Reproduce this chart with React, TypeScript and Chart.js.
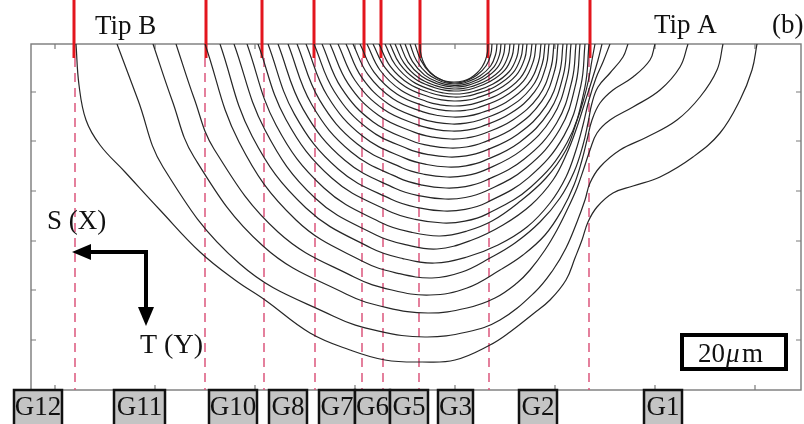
import { useEffect, useRef } from 'react';
import { Chart, registerables } from 'chart.js';

Chart.register(...registerables);

const SERIF = "'Liberation Serif', 'Times New Roman', serif";

// axis ticks (data units = image pixels)
const X_TICKS = [55, 155, 255, 355, 455, 555, 655, 755];
const Y_TICKS = [92, 141, 191, 241, 290, 340];

// grain boundaries
const GB_SOLID_X = [74, 206, 262, 314, 364, 381, 420, 488, 590];
const GB_DASH_X = [75, 205, 264, 315, 362, 383, 419, 489, 589];

// grain labels
const GRAIN_LABELS = ['G12', 'G11', 'G10', 'G8', 'G7', 'G6', 'G5', 'G3', 'G2', 'G1'];
const GRAIN_LEFT = [14, 114, 209, 269, 319, 355, 390, 438, 519, 644];
const GRAIN_RIGHT = [62, 165, 257, 307, 355, 390, 428, 473, 557, 682];

// crack fronts, outermost first: [x, y] points from left tip to right tip
const OUTER_FRONTS: number[][][] = [
  [[76, 44], [79, 85], [86, 120], [100, 145], [125, 172], [160, 210], [200, 252], [235, 280], [265, 300], [310, 333], [350, 350], [385, 360], [422, 362], [455, 360], [490, 345], [510, 332], [533, 314], [550, 300], [566, 280], [575, 258], [582, 240], [588, 222], [597, 207], [613, 193], [633, 186], [660, 177], [693, 157], [720, 133], [740, 100], [752, 70], [757, 44]],
  [[117, 44], [138, 100], [163, 167], [240, 264], [333, 316], [378.8, 331.1], [425, 337], [467, 332], [500, 320], [535, 292], [553, 270], [566, 248], [577, 222], [585, 200], [590, 183], [600, 167], [620, 150], [647, 137], [677, 120], [700, 97], [717, 70], [723, 44]],
  [[153, 44], [172, 100], [194, 157], [263, 246], [346, 294], [386.8, 307.6], [428, 313], [467, 308], [495, 298], [517, 283], [530, 270], [545, 250], [557, 230], [568, 208], [577, 188], [584, 168], [590, 150], [597, 133], [610, 120], [633, 107], [660, 90], [680, 67], [688, 44]],
  [[176, 44], [194, 98], [214, 149], [278, 232], [354, 277], [391.9, 290], [430, 295], [467, 288], [500, 270], [523, 255], [545, 235], [562, 210], [574, 185], [582, 160], [587, 140], [592, 120], [600, 103], [613, 90], [633, 77], [650, 60], [655, 44]],
  [[205, 44], [239, 142], [296, 220], [364, 262], [398, 273.3], [432, 278], [462, 272], [490, 258], [515, 243], [540, 222], [560, 198], [574, 172], [583, 145], [588, 123], [592, 103], [598, 87], [610, 73], [623, 57], [628, 44]],
  [[220, 44], [252, 136], [306, 208], [371, 248], [402.8, 258.6], [435, 263], [467, 257], [498, 245], [527, 227], [550, 203], [566, 177], [576, 150], [583, 125], [589, 100], [596, 78], [603, 62], [610, 44]],
  [[234, 44], [265, 130], [315, 198], [376, 235], [406.6, 244.9], [437, 249], [472, 240], [503, 225], [531, 205], [553, 180], [567, 153], [577, 127], [585, 102], [592, 80], [598, 60], [602, 44]],
  [[247, 44], [276, 125], [324, 188], [382, 223], [411, 232.2], [440, 236], [467, 231], [492, 221], [518, 203], [546, 178], [566, 150], [576.5, 122], [583.5, 100], [588.5, 80], [592, 60], [595, 44]],
];

const INNER_FRONTS: number[][][] = [
  [[258, 44], [285.8, 119.2], [332, 178.3], [387.5, 210.5], [415.3, 219.4], [443, 223], [464.9, 221.2], [486.8, 214.1], [530.6, 187.2], [567.1, 142.5], [584.6, 88.8], [589, 44]],
  [[268, 44], [294.4, 114.1], [338.4, 169.3], [391.2, 199.3], [417.6, 207.7], [444, 211], [465.2, 209.3], [486.3, 202.7], [528.6, 177.6], [563.9, 135.9], [580.8, 85.8], [585, 44]],
  [[278, 44], [303.1, 109.1], [344.8, 160.3], [394.9, 188.2], [420, 195.9], [445, 199], [465.3, 197.5], [485.5, 191.3], [526, 168], [559.8, 129.3], [576, 82.8], [580, 44]],
  [[288, 44], [311.7, 104.5], [351.2, 152], [398.6, 177.9], [422.3, 185.1], [446, 188], [465.5, 186.6], [485, 180.8], [524, 159.2], [556.5, 123.2], [572.1, 80], [576, 44]],
  [[297, 44], [319.5, 99.9], [357, 143.8], [402, 167.7], [424.5, 174.3], [447, 177], [465.6, 175.7], [484.2, 170.4], [521.4, 150.4], [552.4, 117.2], [567.3, 77.3], [571, 44]],
  [[306, 44], [327.3, 95.7], [362.8, 136.3], [405.4, 158.4], [426.7, 164.5], [448, 167], [465.9, 165.8], [483.7, 160.9], [519.4, 142.4], [549.2, 111.7], [563.4, 74.8], [567, 44]],
  [[314, 44], [334.3, 91.5], [368, 128.8], [408.5, 149.1], [428.8, 154.7], [449, 157], [466.1, 155.9], [483.2, 151.4], [517.4, 134.4], [545.9, 106.2], [559.6, 72.3], [563, 44]],
  [[322, 44], [341.2, 87.7], [373.2, 122], [411.6, 140.7], [430.8, 145.9], [450, 148], [466.2, 147], [482.4, 142.8], [514.8, 127.2], [541.8, 101.2], [554.8, 70], [558, 44]],
  [[330, 44], [348.2, 83.9], [378.4, 115.3], [414.7, 132.4], [432.9, 137.1], [451, 139], [466.5, 138], [481.9, 134.3], [512.8, 120], [538.6, 96.3], [550.9, 67.8], [554, 44]],
  [[338, 44], [355.1, 80.5], [383.6, 109.3], [417.8, 124.9], [434.9, 129.3], [452, 131], [466.6, 130.1], [481.1, 126.7], [510.2, 113.6], [534.5, 91.9], [546.1, 65.8], [549, 44]],
  [[346, 44], [361.9, 77.6], [388.4, 104], [420.2, 118.4], [436.1, 122.4], [452, 124], [466, 123.2], [479.9, 120], [507.8, 108], [531.1, 88], [542.2, 64], [545, 44]],
  [[353, 44], [368, 74.7], [393, 98.8], [423, 111.9], [438, 115.5], [453, 117], [466.2, 116.3], [479.4, 113.4], [505.8, 102.4], [527.8, 84.2], [538.4, 62.3], [541, 44]],
  [[360, 44], [374, 72.1], [397.2, 94.3], [425.1, 106.3], [439, 109.7], [453, 111], [465.5, 110.3], [477.9, 107.7], [502.8, 97.6], [523.6, 80.9], [533.5, 60.8], [536, 44]],
  [[367, 44], [379.9, 70], [401.4, 90.5], [427.2, 101.7], [440.1, 104.8], [453, 106], [464.9, 105.4], [476.7, 102.9], [500.4, 93.6], [520.2, 78.1], [529.6, 59.5], [532, 44]],
  [[373, 44], [385.2, 67.9], [405.4, 86.8], [429.7, 97], [441.9, 99.9], [454, 101], [465, 100.4], [475.9, 98.2], [497.8, 89.6], [516.1, 75.4], [524.8, 58.3], [527, 44]],
  [[379, 44], [390.3, 66.3], [409, 83.8], [431.5, 93.3], [442.8, 95.9], [454, 97], [464.4, 96.5], [474.7, 94.4], [495.4, 86.4], [512.7, 73.2], [520.9, 57.3], [523, 44]],
  [[385, 44], [395.4, 65], [412.6, 81.5], [433.3, 90.5], [443.7, 93], [454, 94], [463.8, 93.5], [473.5, 91.5], [493, 84], [509.3, 71.5], [517, 56.5], [519, 44]],
  [[390, 44], [399.6, 63.7], [415.6, 79.3], [434.8, 87.7], [444.4, 90.1], [454, 91], [463, 90.5], [472, 88.7], [490, 81.6], [505, 69.9], [512.2, 55.8], [514, 44]],
  [[395, 44], [403.9, 62.9], [418.6, 77.8], [436.3, 85.9], [445.2, 88.1], [454, 89], [462.4, 88.6], [470.8, 86.8], [487.6, 80], [501.6, 68.8], [508.3, 55.3], [510, 44]],
  [[400, 44], [408.1, 62.1], [421.6, 76.3], [437.8, 84], [445.9, 86.1], [454, 87], [461.7, 86.6], [469.3, 84.9], [484.6, 78.4], [497.4, 67.7], [503.5, 54.8], [505, 44]],
  [[405, 44], [412.4, 61.4], [424.6, 75.1], [439.3, 82.6], [446.7, 84.7], [454, 85.5], [461.1, 85.1], [468.1, 83.4], [482.2, 77.2], [494, 66.8], [499.6, 54.4], [501, 44]],
  [[410, 44], [416.6, 60.8], [427.6, 74], [440.8, 81.2], [447.4, 83.2], [454, 84], [460.5, 83.6], [466.9, 82], [479.8, 76], [490.6, 66], [495.7, 54], [497, 44]],
  [[415, 44], [420.9, 60.4], [430.6, 73.3], [442.3, 80.3], [448.2, 82.2], [454, 83], [459.7, 82.6], [465.4, 81.1], [476.8, 75.2], [486.3, 65.5], [490.9, 53.8], [492, 44]],
];

const NOTCH: number[][] = [
  [420, 44], [420.5, 52], [422.5, 60], [426, 67], [431, 73], [437.5, 78], [445, 81], [454, 82],
  [463, 81], [470.5, 78], [477, 73], [482, 67], [485.5, 60], [487.5, 52], [488, 44],
];

const Y_TOP = 44;
const Y_BOTTOM = 390;
const RED_SPLIT = 58;

export default function App() {
  const ref = useRef<HTMLCanvasElement>(null);

  useEffect(() => {
    document.body.style.margin = '0';
    const canvas = ref.current;
    if (!canvas) return;

    const toPts = (c: number[][]) => c.map(([x, y]) => ({ x, y }));
    const fronts = [...OUTER_FRONTS, ...INNER_FRONTS, NOTCH];
    const datasets: any[] = fronts.map((c) => ({
      data: toPts(c),
      borderColor: '#262626',
      borderWidth: 1.2,
      pointRadius: 0,
      tension: 0.4,
      fill: false,
    }));
    GB_DASH_X.forEach((x) =>
      datasets.push({
        data: [{ x, y: RED_SPLIT }, { x, y: Y_BOTTOM }],
        borderColor: 'rgba(218,80,120,0.9)',
        borderWidth: 1.6,
        borderDash: [9, 6],
        pointRadius: 0,
        tension: 0,
        clip: false,
      })
    );
    GB_SOLID_X.forEach((x) =>
      datasets.push({
        data: [{ x, y: 0 }, { x, y: RED_SPLIT }],
        borderColor: '#e3161e',
        borderWidth: 3,
        pointRadius: 0,
        tension: 0,
        clip: false,
      })
    );

    const overlay = {
      id: 'overlay',
      beforeDatasetsDraw(chart: any) {
        const { ctx, chartArea: a } = chart;
        const xs = chart.scales.x;
        const ys = chart.scales.y;
        ctx.save();
        ctx.strokeStyle = '#7a7a7a';
        ctx.lineWidth = 1.4;
        ctx.strokeRect(a.left, a.top, a.right - a.left, a.bottom - a.top);
        ctx.lineWidth = 1.2;
        ctx.beginPath();
        X_TICKS.forEach((v) => {
          const px = xs.getPixelForValue(v);
          ctx.moveTo(px, a.top);
          ctx.lineTo(px, a.top + 5);
          ctx.moveTo(px, a.bottom);
          ctx.lineTo(px, a.bottom - 5);
        });
        Y_TICKS.forEach((v) => {
          const py = ys.getPixelForValue(v);
          ctx.moveTo(a.left, py);
          ctx.lineTo(a.left + 5, py);
          ctx.moveTo(a.right, py);
          ctx.lineTo(a.right - 5, py);
        });
        ctx.stroke();
        ctx.restore();
      },
      afterDraw(chart: any) {
        const { ctx, chartArea: a } = chart;
        const xs = chart.scales.x;
        ctx.save();
        ctx.fillStyle = '#111';
        ctx.textBaseline = 'alphabetic';
        ctx.textAlign = 'left';
        ctx.font = `27px ${SERIF}`;
        ctx.fillText('Tip B', 95, 34);
        ctx.fillText('Tip A', 654, 33);
        ctx.fillText('(b)', 772, 33);
        ctx.fillText('S (X)', 47, 229);
        ctx.font = `28px ${SERIF}`;
        ctx.fillText('T (Y)', 140, 353);

        // direction arrows
        ctx.strokeStyle = '#000';
        ctx.lineWidth = 4;
        ctx.lineCap = 'butt';
        ctx.beginPath();
        ctx.moveTo(88, 252);
        ctx.lineTo(148, 252);
        ctx.moveTo(146, 250);
        ctx.lineTo(146, 310);
        ctx.stroke();
        ctx.fillStyle = '#000';
        ctx.beginPath();
        ctx.moveTo(72, 252);
        ctx.lineTo(91, 244);
        ctx.lineTo(91, 260);
        ctx.closePath();
        ctx.fill();
        ctx.beginPath();
        ctx.moveTo(146, 326);
        ctx.lineTo(138, 307);
        ctx.lineTo(154, 307);
        ctx.closePath();
        ctx.fill();

        // scale bar box
        ctx.lineWidth = 4;
        ctx.strokeRect(682, 335, 104, 34);
        ctx.fillStyle = '#111';
        ctx.font = `27px ${SERIF}`;
        ctx.fillText('20', 698, 362);
        ctx.font = `italic 27px ${SERIF}`;
        ctx.fillText('μ', 726, 362);
        ctx.font = `27px ${SERIF}`;
        ctx.fillText('m', 742, 362);

        // grain label boxes
        ctx.textAlign = 'center';
        ctx.font = `27px ${SERIF}`;
        GRAIN_LABELS.forEach((lab, i) => {
          const x1 = xs.getPixelForValue(GRAIN_LEFT[i]);
          const x2 = xs.getPixelForValue(GRAIN_RIGHT[i]);
          ctx.fillStyle = '#c4c4c4';
          ctx.fillRect(x1, a.bottom, x2 - x1, 40);
          ctx.strokeStyle = '#111';
          ctx.lineWidth = 2.5;
          ctx.strokeRect(x1, a.bottom, x2 - x1, 40);
          ctx.fillStyle = '#111';
          ctx.fillText(lab, (x1 + x2) / 2, 415);
        });
        ctx.restore();
      },
    };

    const chart = new Chart(canvas, {
      type: 'line',
      data: { datasets },
      options: {
        responsive: false,
        maintainAspectRatio: false,
        devicePixelRatio: 1,
        animation: false,
        events: [],
        layout: { padding: { left: 31, right: 3, top: Y_TOP, bottom: 424 - Y_BOTTOM } },
        plugins: { legend: { display: false }, tooltip: { enabled: false } },
        scales: {
          x: { type: 'linear', display: false, min: 31, max: 801 },
          y: { type: 'linear', display: false, min: Y_TOP, max: Y_BOTTOM, reverse: true },
        },
      } as any,
      plugins: [overlay],
    });
    return () => chart.destroy();
  }, []);

  return (
    <div style={{ width: 804, height: 424, background: '#fff' }}>
      <canvas ref={ref} width={804} height={424} style={{ display: 'block' }} />
    </div>
  );
}
